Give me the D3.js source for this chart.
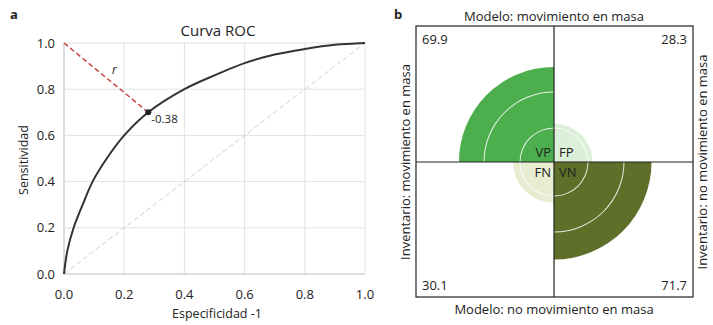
<!DOCTYPE html>
<html>
<head>
<meta charset="utf-8">
<script src="https://cdn.jsdelivr.net/npm/d3@7"></script>
<style>
  body { margin: 0; background: #fff; }
  text { font-family: "Open Sans", "Noto Sans", sans-serif; fill: #222; }
</style>
</head>
<body>
<svg id="chart" width="713" height="325"></svg>
<script>
// datos de la curva ROC (especificidad -1, sensitividad)
const rocX = [0, 0.011, 0.032, 0.062, 0.095, 0.142, 0.2, 0.28, 0.4, 0.5, 0.6, 0.7, 0.8, 0.9, 1.0];
const rocY = [0, 0.1, 0.2, 0.3, 0.4, 0.5, 0.6, 0.7, 0.8, 0.86, 0.913, 0.95, 0.974, 0.992, 1.0];
const cutPoint = [0.28, 0.70];
const cutLabel = "-0.38";
const ticks = [0, 0.2, 0.4, 0.6, 0.8, 1.0];

// tabla de confusion (fourfold)
const cells = ["VP", "FP", "FN", "VN"];
const cellValues = [69.9, 28.3, 30.1, 71.7];
const cellColors = ["#4cae4c", "#dcefd9", "#e8edd2", "#5e6f29"];
const ringRadii = [34, 70];

const svg = d3.select("#chart");

// ---- panel a ----
const x = d3.scaleLinear().domain([0, 1]).range([64, 365]);
const y = d3.scaleLinear().domain([0, 1]).range([274, 43]);

svg.append("text").attr("x", 10).attr("y", 19)
    .style("font-size", "13px").style("font-weight", "bold").text("a");

const grid = svg.append("g");
grid.selectAll("line.v").data(ticks).enter().append("line")
    .attr("x1", d => x(d)).attr("x2", d => x(d))
    .attr("y1", y(0)).attr("y2", y(1))
    .attr("stroke", d => d === 0 ? "#bbb" : "#e2e2e2");
grid.selectAll("line.h").data(ticks).enter().append("line")
    .attr("x1", x(0)).attr("x2", x(1))
    .attr("y1", d => y(d)).attr("y2", d => y(d))
    .attr("stroke", d => d === 0 ? "#bbb" : "#e2e2e2");

svg.append("g").selectAll("text").data(ticks).enter().append("text")
    .attr("x", d => x(d)).attr("y", 299)
    .attr("text-anchor", "middle").style("font-size", "13px")
    .text(d => d.toFixed(1));
svg.append("g").selectAll("text").data(ticks).enter().append("text")
    .attr("x", 55).attr("y", d => y(d) + 4.5)
    .attr("text-anchor", "end").style("font-size", "13px")
    .text(d => d.toFixed(1));

svg.append("text").attr("x", 218).attr("y", 36)
    .attr("text-anchor", "middle").style("font-size", "15px").text("Curva ROC");
svg.append("text").attr("x", 217).attr("y", 318)
    .attr("text-anchor", "middle").style("font-size", "12.5px").text("Especificidad -1");
svg.append("text").attr("transform", "translate(28,160) rotate(-90)")
    .attr("text-anchor", "middle").style("font-size", "12.5px").text("Sensitividad");

// diagonal
svg.append("line")
    .attr("x1", x(0)).attr("y1", y(0)).attr("x2", x(1)).attr("y2", y(1))
    .attr("stroke", "#cfcfcf").attr("stroke-dasharray", "5,3");

const line = d3.line().x(d => x(d[0])).y(d => y(d[1])).curve(d3.curveCatmullRom.alpha(0.5));
svg.append("path").datum(d3.zip(rocX, rocY))
    .attr("d", line).attr("fill", "none")
    .attr("stroke", "#333").attr("stroke-width", 2);

svg.append("line")
    .attr("x1", x(0)).attr("y1", y(1)).attr("x2", x(cutPoint[0])).attr("y2", y(cutPoint[1]))
    .attr("stroke", "#cc4444").attr("stroke-width", 1.5).attr("stroke-dasharray", "5,3");
svg.append("circle").attr("cx", x(cutPoint[0])).attr("cy", y(cutPoint[1]))
    .attr("r", 3).attr("fill", "#222");
svg.append("text").attr("x", x(cutPoint[0]) + 3).attr("y", y(cutPoint[1]) + 11)
    .style("font-size", "11.5px").text(cutLabel);
svg.append("text").attr("x", 112).attr("y", 74)
    .style("font-size", "12px").style("font-style", "italic").text("r");

// ---- panel b ----
const bx0 = 416, bx1 = 693, by0 = 26, by1 = 297;
const cx = 554, cy = 162;
const rScale = d3.scaleLinear().domain([0, 100]).range([0, 136]);

svg.append("text").attr("x", 394).attr("y", 19)
    .style("font-size", "13px").style("font-weight", "bold").text("b");

// cuadrantes: VP arriba-izq, FP arriba-der, FN abajo-izq, VN abajo-der
const angles = [[-Math.PI / 2, 0], [0, Math.PI / 2], [Math.PI, 3 * Math.PI / 2], [Math.PI / 2, Math.PI]];
const arc = d3.arc().innerRadius(0);
const g = svg.append("g").attr("transform", `translate(${cx},${cy})`);
g.selectAll("path.q").data(cells).enter().append("path")
    .attr("d", (d, i) => arc({ outerRadius: rScale(cellValues[i]), startAngle: angles[i][0], endAngle: angles[i][1] }))
    .attr("fill", (d, i) => cellColors[i]);

// anillos blancos recortados a cada cuadrante
g.selectAll("g.rings").data(cells).enter().append("g")
    .each(function (d, i) {
        d3.select(this).selectAll("path").data(ringRadii.filter(r => r < rScale(cellValues[i]))).enter()
            .append("path")
            .attr("d", r => d3.arc()({ innerRadius: r - 0.5, outerRadius: r + 0.5, startAngle: angles[i][0], endAngle: angles[i][1] }))
            .attr("fill", "#fff").attr("opacity", 0.85);
    });

svg.append("rect").attr("x", bx0).attr("y", by0)
    .attr("width", bx1 - bx0).attr("height", by1 - by0)
    .attr("fill", "none").attr("stroke", "#222").attr("stroke-width", 1.2);
svg.append("line").attr("x1", cx).attr("x2", cx).attr("y1", by0).attr("y2", by1)
    .attr("stroke", "#222").attr("stroke-width", 1.2);
svg.append("line").attr("x1", bx0).attr("x2", bx1).attr("y1", cy).attr("y2", cy)
    .attr("stroke", "#222").attr("stroke-width", 1.2);

const labelPos = [[-3, -5, "end"], [5, -5, "start"], [-3, 15, "end"], [5, 15, "start"]];
g.selectAll("text.l").data(cells).enter().append("text")
    .attr("x", (d, i) => labelPos[i][0]).attr("y", (d, i) => labelPos[i][1])
    .attr("text-anchor", (d, i) => labelPos[i][2])
    .style("font-size", "13px").text(d => d);

const numPos = [[bx0 + 6, by0 + 18, "start"], [bx1 - 6, by0 + 18, "end"], [bx0 + 6, by1 - 7, "start"], [bx1 - 6, by1 - 7, "end"]];
svg.selectAll("text.n").data(cellValues).enter().append("text")
    .attr("x", (d, i) => numPos[i][0]).attr("y", (d, i) => numPos[i][1])
    .attr("text-anchor", (d, i) => numPos[i][2])
    .style("font-size", "13px").text(d => d.toFixed(1));

svg.append("text").attr("x", cx).attr("y", 21).attr("text-anchor", "middle")
    .style("font-size", "13px").text("Modelo: movimiento en masa");
svg.append("text").attr("x", cx).attr("y", 314).attr("text-anchor", "middle")
    .style("font-size", "13px").text("Modelo: no movimiento en masa");
svg.append("text").attr("transform", `translate(410,${cy}) rotate(-90)`).attr("text-anchor", "middle")
    .style("font-size", "13px").text("Inventario: movimiento en masa");
svg.append("text").attr("transform", `translate(707,${cy}) rotate(-90)`).attr("text-anchor", "middle")
    .style("font-size", "13px").text("Inventario: no movimiento en masa");
</script>
</body>
</html>
